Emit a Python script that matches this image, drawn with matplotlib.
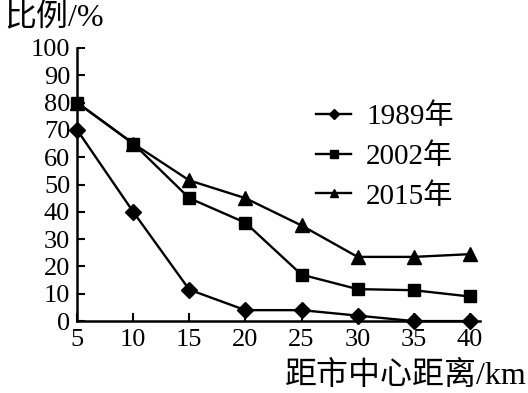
import matplotlib.pyplot as plt

plt.rcParams['font.family'] = ['Liberation Serif', 'Noto Sans CJK SC']

# 距市中心距离 (km)
dist = [5, 10, 15, 20, 25, 30, 35, 40]
y1989 = [70, 40, 11.5, 4, 4, 2, 0, 0]
y2002 = [80, 65, 45, 36, 17, 11.7, 11.3, 9]
y2015 = [80, 65, 51.5, 45, 35, 23.5, 23.5, 24.5]

fig = plt.figure(figsize=(5.28, 3.93), dpi=100)
ax = fig.add_axes([0.146, 0.183, 0.763, 0.695])

ax.plot(dist, y1989, color='black', lw=1.7, marker='D', ms=8, label='1989年', clip_on=False)
ax.plot(dist, y2002, color='black', lw=1.7, marker='s', ms=9, label='2002年', clip_on=False)
ax.plot(dist, y2015, color='black', lw=1.7, marker='^', ms=10, label='2015年', clip_on=False)

ax.set_xlim(5, 40.9)
ax.set_ylim(0, 100)
ax.set_xticks(dist)
ax.set_yticks(range(0, 101, 10))
ax.spines['top'].set_visible(False)
ax.spines['right'].set_visible(False)
ax.spines['left'].set_linewidth(1.8)
ax.spines['bottom'].set_linewidth(1.8)
ax.tick_params(direction='in', length=6, width=1.5, labelsize=19)
ax.tick_params(axis='x', pad=6)
ax.tick_params(axis='y', pad=5)

fig.text(0.008, 0.915, '比例/%', fontsize=23, ha='left', va='bottom')
fig.text(0.997, 0.005, '距市中心距离/km', fontsize=23, ha='right', va='bottom')

ax.legend(loc='upper left', bbox_to_anchor=(0.565, 0.84), frameon=False,
          fontsize=21, handlelength=1.2, handletextpad=0.5, labelspacing=0.45,
          markerscale=0.6, borderaxespad=0)

fig.savefig('out.png', dpi=100)
